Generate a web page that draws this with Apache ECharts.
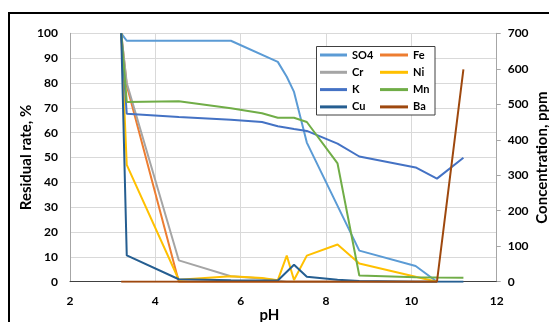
<!DOCTYPE html>
<html><head><meta charset="utf-8">
<script src="https://cdn.jsdelivr.net/npm/echarts@6/dist/echarts.min.js"></script>
<style>html,body{margin:0;padding:0;background:#fff}#c{width:549px;height:322px}</style>
</head><body><div id="c"></div>
<script>
// shared pH sampling points
var pH = [3.2, 3.33, 4.55, 5.77, 6.5, 6.87, 7.08, 7.25, 7.55, 8.27, 8.78, 10.1, 10.6, 11.22];
// residual rate, % (null = no point)
var SO4 = [100, 97, 97, 97, null, 88.5, 82.5, 76.4, 56, null, 12.5, 6.3, 0, null];
var Fe  = [100, 79, 0, 0, 0, 0, 0, 0, 0, 0, 0, 0, 0, null];
var Cr  = [100, 80, 8.6, 2.2, 1.3, 0.5, 0, 0, 0, 0, 0, 0, 0, null];
var Ni  = [100, 47, 0.8, 2.2, 1.5, 0.6, 10.5, 0.7, 10.5, 15, 7.3, 2, 0, null];
var K   = [100, 67.6, 66.3, 65.2, 64.3, 62.6, 62, 61.5, 60.7, 55.6, 50.4, 46, 41.5, 49.9];
var Mn  = [100, 72.3, 72.6, 69.8, 67.8, 66, 66, 66, 64.3, 47.6, 2.5, 1.8, 1.7, 1.6];
var Cu  = [100, 10.6, 1, 0.6, 0.5, 0.5, null, 6.8, 2, 0.8, 0.3, 0, 0, 0];
var Ba  = [0, 0, 0, 0, 0, 0, 0, 0, 0, 0, 0, 0, 0, 85.5];
var seriesNames = ['SO4', 'Fe', 'Cr', 'Ni', 'K', 'Mn', 'Cu', 'Ba'];
var seriesVals = [SO4, Fe, Cr, Ni, K, Mn, Cu, Ba];
var colors = ['#5B9BD5', '#ED7D31', '#A5A5A5', '#FFC000', '#4472C4', '#70AD47', '#255E91', '#9E480E'];
var xTicks = {min: 2, max: 12, interval: 2};
var leftTicks = {min: 0, max: 100, interval: 10};
var rightTicks = {min: 0, max: 700, interval: 100};
var xTitle = 'pH', leftTitle = 'Residual rate, %', rightTitle = 'Concentration, ppm';

var FONT = 'Lato';
function pairs(v) { return pH.map(function (x, i) { return [x, v[i]]; }); }
var series = seriesNames.map(function (n, i) {
  return {
    name: n, type: 'line', data: pairs(seriesVals[i]), yAxisIndex: 0,
    symbol: 'none', connectNulls: true, color: colors[i],
    lineStyle: {width: 2, color: colors[i]}, z: 2 + i * 0.01
  };
});
var legendCommon = {
  orient: 'vertical', padding: 0, itemGap: 3.3, itemHeight: 3, icon: 'rect', z: 20,
  textStyle: {fontFamily: FONT, fontWeight: 'bold', fontSize: 11, color: '#000', lineHeight: 14}
};
var chart = echarts.init(document.getElementById('c'), null, {renderer: 'canvas'});
chart.setOption({
  animation: false,
  backgroundColor: '#fff',
  color: colors,
  grid: {left: 70, right: 52.3, top: 33.3, bottom: 40.3, containLabel: false, outerBoundsMode: 'none'},
  graphic: [
    {type: 'rect', z: 100, silent: true, shape: {x: 9, y: 13, width: 700, height: 500},
     style: {fill: 'none', stroke: '#000', lineWidth: 2}},
    {type: 'rect', z: 19, silent: true, shape: {x: 316.5, y: 46.5, width: 118.5, height: 68.5},
     style: {fill: '#fff', stroke: '#404040', lineWidth: 1}}
  ],
  legend: [
    Object.assign({}, legendCommon, {left: 320, top: 48, itemWidth: 27, data: ['SO4', 'Cr', 'K', 'Cu']}),
    Object.assign({}, legendCommon, {left: 380, top: 48, itemWidth: 28, data: ['Fe', 'Ni', 'Mn', 'Ba']})
  ],
  xAxis: {
    type: 'value', min: xTicks.min, max: xTicks.max, interval: xTicks.interval,
    name: xTitle, nameLocation: 'middle', nameGap: 26, nameMoveOverlap: false,
    nameTextStyle: {fontFamily: FONT, fontWeight: 'bold', fontSize: 15, color: '#000', padding: [0, 28, 0, 0]},
    axisLine: {show: true, onZero: false, lineStyle: {color: '#404040', width: 1}},
    axisTick: {show: false},
    axisLabel: {margin: 13, fontFamily: FONT, fontWeight: 'bold', fontSize: 12, color: '#000'},
    splitLine: {show: true, lineStyle: {color: '#D9D9D9', width: 1}}
  },
  yAxis: [{
    type: 'value', position: 'left', min: leftTicks.min, max: leftTicks.max, interval: leftTicks.interval,
    name: leftTitle, nameLocation: 'middle', nameGap: 36, nameMoveOverlap: false,
    nameTextStyle: {fontFamily: FONT, fontWeight: 'bold', fontSize: 15, color: '#000'},
    axisLine: {show: true, lineStyle: {color: '#A6A6A6', width: 1}},
    axisTick: {show: false},
    axisLabel: {margin: 12, fontFamily: FONT, fontWeight: 'bold', fontSize: 12, color: '#000'},
    splitLine: {show: true, lineStyle: {color: '#D9D9D9', width: 1}}
  }, {
    type: 'value', position: 'right', min: rightTicks.min, max: rightTicks.max, interval: rightTicks.interval,
    name: rightTitle, nameLocation: 'middle', nameGap: 38, nameMoveOverlap: false,
    nameTextStyle: {fontFamily: FONT, fontWeight: 'bold', fontSize: 15, color: '#000'},
    axisLine: {show: true, lineStyle: {color: '#A6A6A6', width: 1}},
    axisTick: {show: true, inside: false, length: 4, lineStyle: {color: '#A6A6A6'}},
    axisLabel: {margin: 11, fontFamily: FONT, fontWeight: 'bold', fontSize: 12, color: '#000'},
    splitLine: {show: false}
  }],
  series: series
});
</script></body></html>
